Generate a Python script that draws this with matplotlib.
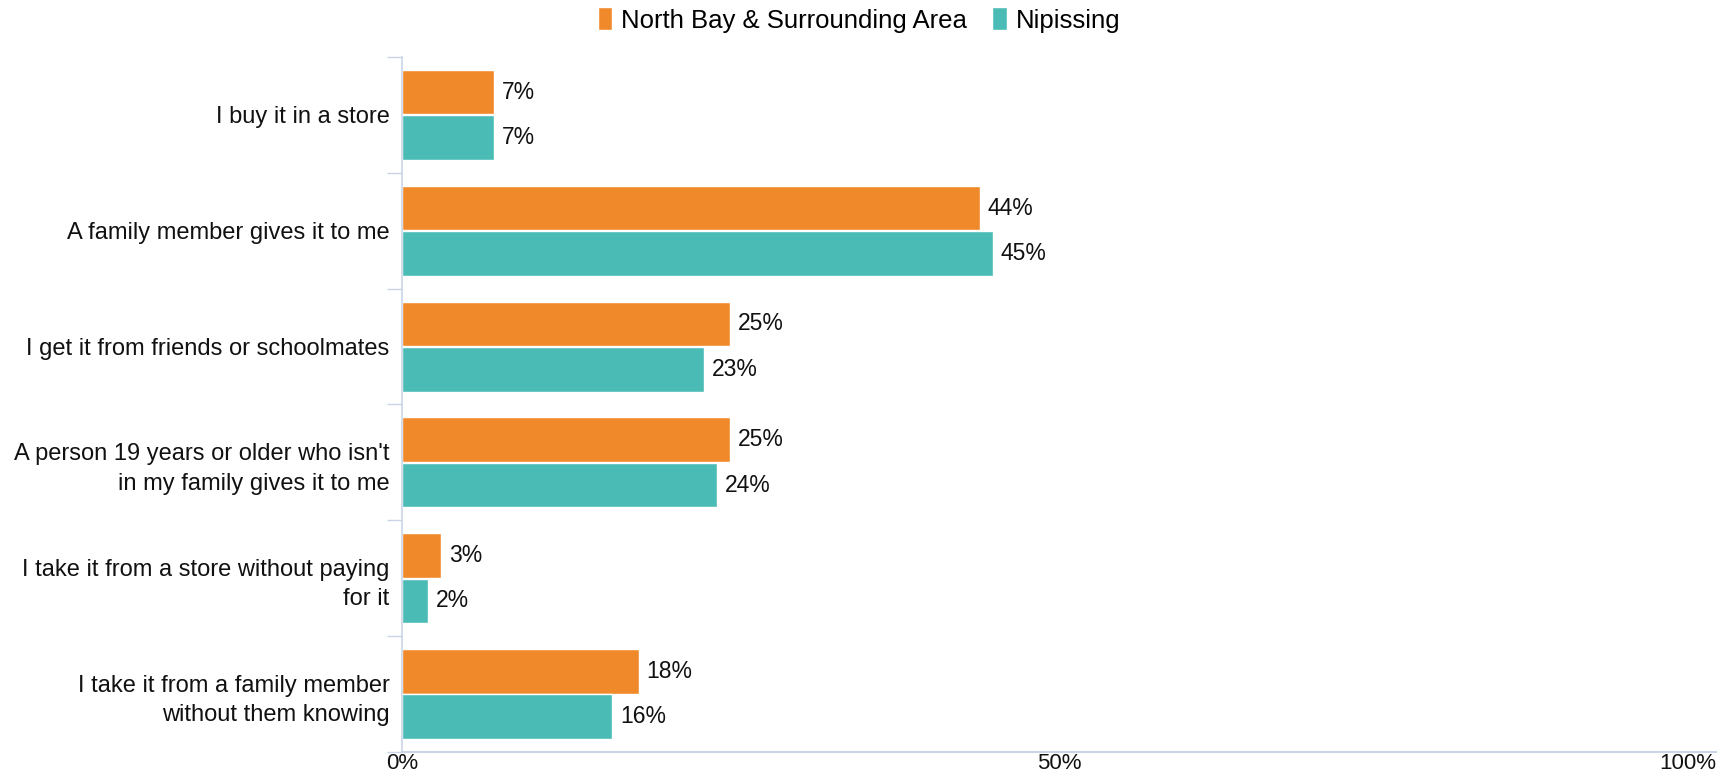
import numpy as np
import matplotlib
matplotlib.use('Agg')
import matplotlib.pyplot as plt

plt.rcParams['font.family'] = ['Liberation Sans', 'DejaVu Sans']

# Data
categories = [
    'I buy it in a store',
    'A family member gives it to me',
    'I get it from friends or schoolmates',
    "A person 19 years or older who isn't\nin my family gives it to me",
    'I take it from a store without paying\nfor it',
    'I take it from a family member\nwithout them knowing',
]
north_bay = [7, 44, 25, 25, 3, 18]
nipissing = [7, 45, 23, 24, 2, 16]
series_names = ['North Bay & Surrounding Area', 'Nipissing']
x_ticks = [0, 50, 100]

orange = '#F0892A'
teal = '#4BBCB5'
axis_col = '#C9D5E6'

fig = plt.figure(figsize=(17.35, 7.75), dpi=100)
ax = fig.add_axes([0.2317, 0.0297, 0.989 - 0.2317, 0.9265 - 0.0297])

y = np.arange(len(categories))
h = 0.385
off = 0.196
b1 = ax.barh(y - off, north_bay, height=h, color=orange, edgecolor='white', linewidth=1, label=series_names[0])
b2 = ax.barh(y + off, nipissing, height=h, color=teal, edgecolor='white', linewidth=1, label=series_names[1])

for bars, vals in [(b1, north_bay), (b2, nipissing)]:
    for rect, v in zip(bars, vals):
        ax.annotate(f'{v}%', (rect.get_width(), rect.get_y() + rect.get_height() / 2),
                    xytext=(5.5, 0), textcoords='offset points', va='center', ha='left',
                    fontsize=16.5, color='#111111')

ax.set_xlim(0, 100)
ax.set_ylim(len(categories) - 0.5, -0.5)

# ticks at category boundaries, labels at centres
ax.set_yticks(np.arange(len(categories) + 1) - 0.5)
ax.set_yticklabels([])
ax.set_yticks(y, minor=True)
ax.set_yticklabels(categories, minor=True, fontsize=17, color='#111111', linespacing=1.45)
ax.tick_params(axis='y', which='major', length=11, width=1, color=axis_col)
ax.tick_params(axis='y', which='minor', length=0, pad=9)

ax.set_xticks(x_ticks)
xl = ax.set_xticklabels([f'{t}%' for t in x_ticks], fontsize=16, color='#111111')
xl[-1].set_ha('right')
ax.tick_params(axis='x', length=0, pad=1)

for s in ['top', 'right']:
    ax.spines[s].set_visible(False)
ax.spines['left'].set_color(axis_col)
ax.spines['bottom'].set_color(axis_col)
ax.spines['left'].set_linewidth(1.2)
ax.spines['bottom'].set_linewidth(1.5)

fig.legend(handles=[b1, b2], labels=series_names, loc='center', bbox_to_anchor=(859 / 1735, 1 - 20 / 775),
           ncol=2, frameon=False, fontsize=18.5, handlelength=0.55, handleheight=1.0,
           handletextpad=0.35, columnspacing=1.0)

fig.savefig('out.png', dpi=100)
